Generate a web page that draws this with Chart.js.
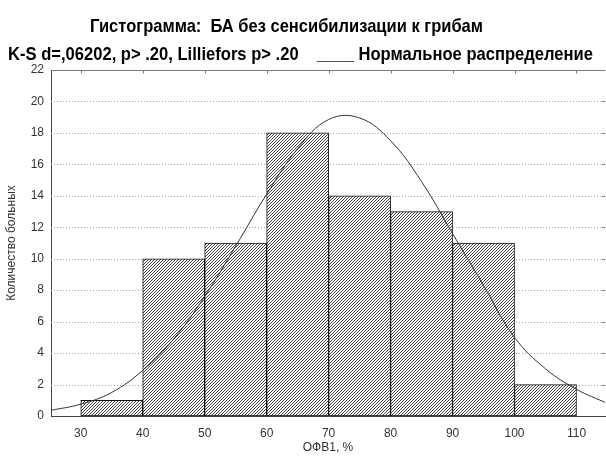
<!DOCTYPE html>
<html><head><meta charset="utf-8">
<script src="https://cdn.jsdelivr.net/npm/chart.js@4"></script>
<style>html,body{margin:0;padding:0;background:#fff}#wrap{width:606px;height:459px}</style>
</head><body><div id="wrap"><canvas id="c" width="606" height="459"></canvas></div>
<script>
// Histogram bins (lower edge, width) and patient counts
const binStarts = [30, 40, 50, 60, 70, 80, 90, 100];
const binWidth = 10;
const counts = [1, 10, 11, 18, 14, 13, 11, 2];

// Fitted normal distribution curve, read point by point
const curveX = [25, 30, 35, 40, 45, 50, 55, 60, 65, 70, 75, 80, 85, 90, 95, 100, 105, 110, 115];
const curveY = [0.35, 0.75, 1.5, 2.9, 4.9, 7.6, 10.8, 14.1, 17.0, 18.85, 18.95, 17.5, 14.9, 11.6, 8.3, 5.0, 3.0, 1.7, 0.8];

const xTicks = [30, 40, 50, 60, 70, 80, 90, 100, 110];
const yTicks = [0, 2, 4, 6, 8, 10, 12, 14, 16, 18, 20, 22];

const titleText = 'Гистограмма:  БА без сенсибилизации к грибам';
const subtitleText = 'K-S d=,06202, p> .20, Lilliefors p> .20    ____ Нормальное распределение';
const xTitle = 'ОФВ1, %';
const yTitle = 'Количество больных';

// Diagonal hatch fill for the bars
function hatchPattern() {
  const t = document.createElement('canvas');
  t.width = 3; t.height = 3;
  const g = t.getContext('2d');
  g.fillStyle = '#fff'; g.fillRect(0, 0, 3, 3);
  g.fillStyle = '#444';
  g.fillRect(0, 2, 1, 1); g.fillRect(1, 1, 1, 1); g.fillRect(2, 0, 1, 1);
  return g.createPattern(t, 'repeat');
}

function drawFitted(ctx, text, x, y, w) {
  ctx.font = 'bold 19px "Liberation Sans Narrow", "Liberation Sans", Arial, sans-serif';
  const m = ctx.measureText(text).width;
  ctx.save();
  ctx.translate(x, y);
  ctx.scale(w / m, 1);
  ctx.fillText(text, 0, 0);
  ctx.restore();
}

const frame = {
  id: 'frame',
  beforeDatasetsDraw(chart) {
    const { ctx, chartArea: a, scales: { x, y } } = chart;
    ctx.save();
    ctx.strokeStyle = '#a8a8a8';
    ctx.lineWidth = 1;
    ctx.setLineDash([1, 2]);
    yTicks.forEach(v => {
      if (v === 0 || v === 22) return;
      const py = Math.round(y.getPixelForValue(v)) + 0.5;
      ctx.beginPath(); ctx.moveTo(a.left, py); ctx.lineTo(a.right - 3, py); ctx.stroke();
    });
    ctx.setLineDash([]);
    ctx.strokeStyle = '#777';
    const top = Math.round(a.top) + 0.5;
    ctx.beginPath(); ctx.moveTo(a.left, top); ctx.lineTo(a.right, top); ctx.stroke();
    // small inward ticks on the top and right edges
    xTicks.forEach(v => {
      const px = Math.round(x.getPixelForValue(v)) + 0.5;
      ctx.beginPath(); ctx.moveTo(px, top); ctx.lineTo(px, top + 3); ctx.stroke();
    });
    yTicks.forEach(v => {
      if (v === 0 || v === 22) return;
      const py = Math.round(y.getPixelForValue(v)) + 0.5;
      ctx.beginPath(); ctx.moveTo(a.right - 3, py); ctx.lineTo(a.right, py); ctx.stroke();
    });
    ctx.restore();
  },
  afterDraw(chart) {
    const ctx = chart.ctx;
    ctx.save();
    ctx.fillStyle = '#000';
    ctx.textBaseline = 'alphabetic';
    drawFitted(ctx, titleText, 90, 32, 393);
    drawFitted(ctx, subtitleText, 8, 60, 585);
    ctx.restore();
  }
};

const tickFont = { family: '"Liberation Sans", Arial, sans-serif', size: 12 };

new Chart(document.getElementById('c'), {
  data: {
    datasets: [
      {
        type: 'line',
        order: 0,
        data: curveX.map((v, i) => ({ x: v, y: curveY[i] })),
        borderColor: '#333',
        borderWidth: 1,
        pointRadius: 0,
        tension: 0.4,
        fill: false
      },
      {
        type: 'bar',
        order: 1,
        data: binStarts.map((s, i) => ({ x: s + binWidth / 2, y: counts[i] })),
        backgroundColor: hatchPattern(),
        borderColor: '#111',
        borderWidth: 1,
        borderSkipped: false,
        barPercentage: 1,
        categoryPercentage: 1
      }
    ]
  },
  options: {
    responsive: false,
    animation: false,
    devicePixelRatio: 1,
    layout: { padding: { left: 4, top: 70, right: 1, bottom: 4 } },
    plugins: { legend: { display: false }, tooltip: { enabled: false } },
    scales: {
      x: {
        type: 'linear',
        min: 25.2,
        max: 114.6,
        offset: false,
        afterBuildTicks: s => { s.ticks = xTicks.map(v => ({ value: v })); },
        afterFit: s => { s.height = 39; },
        grid: { display: false, drawTicks: false },
        border: { display: true, color: '#444', width: 1 },
        ticks: { padding: 10, color: '#333', font: tickFont, maxRotation: 0, autoSkip: false },
        title: { display: true, text: xTitle, color: '#333', font: { family: '"Liberation Sans", Arial, sans-serif', size: 12 }, padding: { top: 2, bottom: 0 } }
      },
      y: {
        min: 0,
        max: 22,
        afterBuildTicks: s => { s.ticks = yTicks.map(v => ({ value: v })); },
        afterFit: s => { s.width = 47; },
        grid: { display: false, drawTicks: false },
        border: { display: true, color: '#444', width: 1 },
        ticks: { padding: 7, color: '#333', font: tickFont, autoSkip: false },
        title: { display: true, text: yTitle, color: '#333', font: { family: '"Liberation Sans", Arial, sans-serif', size: 12 }, padding: { top: 0, bottom: 3 } }
      }
    }
  },
  plugins: [frame]
});
</script>
</body></html>
